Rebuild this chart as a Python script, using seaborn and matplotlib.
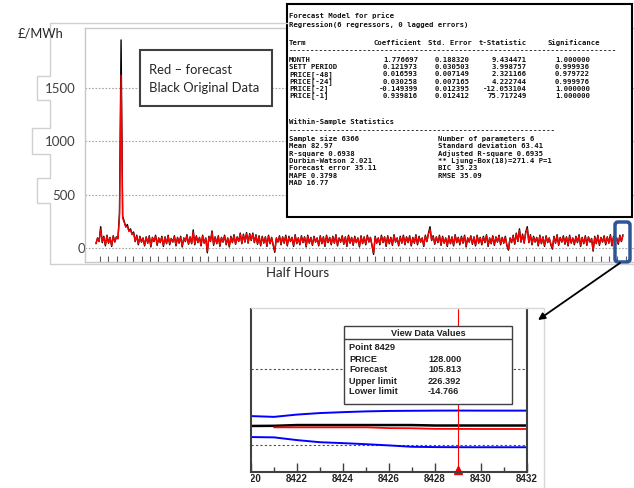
import numpy as np
import matplotlib
matplotlib.use("Agg")
import matplotlib.pyplot as plt
import seaborn as sns
from matplotlib.patches import Rectangle, FancyBboxPatch
from matplotlib.transforms import Bbox, TransformedBbox, ScaledTranslation, blended_transform_factory

W, H = 634, 488

# main series, one value every 25 half hours
price = [40, 95, 60, 200, 50, 110, 20, 120, 45, 100, 15, 115, 55, 105, 90, 330, 1950, 300, 250, 200,
         220, 160, 180, 130, 150, 60, 120, 30, 110, 55, 95, 20, 105, 45, 115, 10, 100, 60, 120, 25,
         95, 50, 110, 15, 105, 40, 120, 30, 90, 55, 115, 20, 100, 45, 110, 10, 95, 60, 125, 35,
         105, 40, 170, 30, 115, 50, 100, 20, 120, 45, 95, -45, 110, 60, 160, 25, 105, 40, 115, 15,
         100, 55, 120, 30, 95, 10, 110, 50, 125, 35, 105, 60, 140, 40, 130, 55, 145, 45, 135, 70,
         140, 50, 125, 35, 115, 20, 110, 45, 105, 15, 120, 40, 100, 25, -40, 95, 55, 115, 30, 105,
         45, 120, 20, 110, 60, 100, 15, 125, 40, 95, 30, 115, 50, 105, 10, 120, 45, 100, 25, 110,
         55, 95, 20, 115, 40, 105, 15, 120, 50, 100, 30, 110, 45, 125, 20, 95, 55, 115, 35, 105,
         15, 120, 45, 100, 25, 110, 50, 95, 10, 115, 40, 105, 30, 120, 55, 100, 20, -60, 110, 45,
         95, 30, 120, 50, 105, 15, 115, 40, 100, 25, 125, 55, 95, 20, 110, 45, 120, 30, 105, 50,
         115, 20, 100, 45, 125, 30, 110, 55, 95, 15, 120, 60, 140, 200, 70, 115, 35, 105, 50, 120,
         25, 110, 45, 95, 15, 115, 40, 105, 20, 125, 50, 100, 30, 110, 45, 120, 10, 95, 55, 115,
         35, 105, 20, 120, 45, 100, 30, 110, 50, 125, 15, 95, 40, 115, 25, 105, 55, 120, 30, 100,
         45, 110, 20, -20, 95, 50, 120, 35, 140, 60, 180, 55, 130, 45, 150, 200, 50, 125, 30, 110,
         55, 100, 20, 120, 40, 105, 15, 115, 50, 95, 30, -10, 110, 45, 125, 25, 100, 55, 115, 35,
         105, 20, 120, 45, 95, 30, 110, 50, 125, 15, 100, 40, 115, 25, 105, 55, 90, -30, 110, 40,
         120, 25, 100, 55, 115, 30, 105, 45, 125, 20, 110, 50, 95, 35, 120, 60, 125]
forecast = [45, 90, 65, 175, 60, 100, 30, 110, 50, 95, 25, 105, 60, 100, 85, 290, 1620, 280, 240, 195,
            205, 155, 170, 125, 140, 65, 110, 40, 100, 60, 90, 30, 100, 50, 105, 20, 95, 65, 110, 35,
            90, 55, 100, 25, 100, 45, 110, 40, 85, 60, 105, 30, 95, 50, 100, 20, 90, 65, 115, 40,
            100, 45, 150, 40, 105, 55, 95, 30, 110, 50, 90, -30, 100, 65, 145, 35, 100, 45, 105, 25,
            95, 60, 110, 40, 90, 20, 100, 55, 115, 40, 100, 65, 130, 45, 120, 60, 135, 50, 125, 75,
            130, 55, 115, 40, 105, 30, 100, 50, 100, 25, 110, 45, 95, 30, -25, 90, 60, 105, 40, 100,
            50, 110, 30, 100, 65, 95, 25, 115, 45, 90, 40, 105, 55, 100, 20, 110, 50, 95, 35, 100,
            60, 90, 30, 105, 45, 100, 25, 110, 55, 95, 40, 100, 50, 115, 30, 90, 60, 105, 40, 100,
            25, 110, 50, 95, 35, 100, 55, 90, 20, 105, 45, 100, 40, 110, 60, 95, 30, -45, 100, 50,
            90, 40, 110, 55, 100, 25, 105, 45, 95, 35, 115, 60, 90, 30, 100, 50, 110, 40, 100, 55,
            105, 30, 95, 50, 115, 40, 100, 60, 90, 25, 110, 65, 130, 175, 75, 105, 45, 100, 55, 110,
            35, 100, 50, 90, 25, 105, 45, 100, 30, 115, 55, 95, 40, 100, 50, 110, 20, 90, 60, 105,
            45, 100, 30, 110, 50, 95, 40, 100, 55, 115, 25, 90, 45, 105, 35, 100, 60, 110, 40, 95,
            50, 100, 30, -10, 90, 55, 110, 45, 130, 65, 165, 60, 120, 50, 140, 180, 55, 115, 40, 100,
            60, 95, 30, 110, 45, 100, 25, 105, 55, 90, 40, 0, 100, 50, 115, 35, 95, 60, 105, 45,
            100, 30, 110, 50, 90, 40, 100, 55, 115, 25, 95, 45, 105, 35, 100, 60, 85, -20, 100, 45,
            110, 35, 95, 60, 105, 40, 100, 50, 115, 30, 100, 55, 90, 45, 110, 65, 115]
half_hour = np.arange(len(price)) * 25

# zoomed view
inset_hh = [8420, 8421, 8422, 8423, 8424, 8425, 8426, 8427, 8428, 8429, 8430, 8431, 8432]
inset_price = [125, 126, 131, 131, 131, 131, 131, 131, 128, 128, 128, 128, 128]
inset_fc_hh = [8421, 8422, 8423, 8424, 8425, 8426, 8427, 8428, 8429, 8430, 8431, 8432]
inset_forecast = [116, 116, 116, 116, 116, 111, 110, 106, 105.8, 105, 105, 105]
inset_upper = [190, 185, 200, 210, 216, 221, 224, 225, 226, 226.4, 226, 226, 226]
inset_lower = [52, 50, 32, 18, 12, 5, -3, -12, -14, -14.8, -15, -15, -15]
cursor_point = 8429

terms = ['MONTH', 'SETT PERIOD', 'PRICE[-48]', 'PRICE[-24]', 'PRICE[-2]', 'PRICE[-1]']
coefs = ['1.776697', '0.121973', '0.016593', '0.030258', '-0.149399', '0.939816']
std_errs = ['0.188320', '0.030503', '0.007149', '0.007165', '0.012395', '0.012412']
t_stats = ['9.434471', '3.998757', '2.321166', '4.222744', '-12.053104', '75.717249']
signif = ['1.000000', '0.999936', '0.979722', '0.999976', '1.000000', '1.000000']
stats_left = ['Sample size 6366', 'Mean 82.97', 'R-square 0.6938', 'Durbin-Watson 2.021',
              'Forecast error 35.11', 'MAPE 0.3798', 'MAD 16.77']
stats_right = ['Number of parameters 6', 'Standard deviation 63.41', 'Adjusted R-square 0.6935',
               '** Ljung-Box(18)=271.4 P=1', 'BIC 35.23', 'RMSE 35.09']
view_labels = ['PRICE', 'Forecast', 'Upper limit', 'Lower limit']
view_values = ['128.000', '105.813', '226.392', '-14.766']

sns.set_style("white")
plt.rcParams['font.family'] = ['Lato', 'DejaVu Sans']

fig = plt.figure(figsize=(W / 100, H / 100), dpi=100)


def px_axes(x0, y0, x1, y1, **kw):
    return fig.add_axes([x0 / W, 1 - y1 / H, (x1 - x0) / W, (y1 - y0) / H], **kw)


# ---- main chart
ax = px_axes(85, 28, 634, 262, zorder=1)
sns.lineplot(x=half_hour, y=price, ax=ax, color='black', lw=1.0, estimator=None)
sns.lineplot(x=half_hour, y=forecast, ax=ax, color='#ff0000', lw=1.0, estimator=None)
ax.set_xlim(-175, 8576)
ax.set_ylim(-131, 2062)
ax.set_yticks([0, 500, 1000, 1500])
ax.set_yticklabels(['0', '500', '1000', '1500'], fontsize=9.5, color='#404040')
ax.tick_params(axis='y', length=0, pad=7)
ax.set_xticks(np.arange(64, 8500, 133))
ax.set_xticklabels([])
ax.tick_params(axis='x', direction='in', length=4.3, width=0.8, color='#606060', bottom=True)
ax.grid(axis='y', ls=(0, (1.5, 1.5)), color='#a6a6a6', lw=0.8)
ax.grid(axis='x', visible=False)
ax.set_axisbelow(True)
for s in ['left', 'top', 'bottom']:
    ax.spines[s].set_color('#c8c8c8')
    ax.spines[s].set_linewidth(1)
ax.spines['right'].set_visible(False)
ax.set_xlabel('')
ax.set_ylabel('')
for lbl in ax.get_yticklabels():
    if lbl.get_text() == '0':
        lbl.set_transform(lbl.get_transform() + ScaledTranslation(0.10, 0, fig.dpi_scale_trans))

# ---- zoomed view
ax2 = px_axes(251, 309, 527, 472, zorder=2)
sns.lineplot(x=inset_hh, y=inset_upper, ax=ax2, color='#0000ff', lw=1.4, estimator=None)
sns.lineplot(x=inset_hh, y=inset_lower, ax=ax2, color='#0000ff', lw=1.4, estimator=None)
sns.lineplot(x=inset_hh, y=inset_price, ax=ax2, color='black', lw=1.8, estimator=None)
sns.lineplot(x=inset_fc_hh, y=inset_forecast, ax=ax2, color='#ff0000', lw=1.3, estimator=None)
ax2.axvline(cursor_point, color='#ff0000', lw=0.8)
ax2.plot([cursor_point], [0.015], marker='^', color='#ee0000', ms=6, clip_on=False,
         transform=blended_transform_factory(ax2.transData, ax2.transAxes))
ax2.set_xlim(8420, 8432)
ax2.set_ylim(-178, 895)
ax2.set_yticks([0, 500])
ax2.tick_params(axis='y', left=False, labelleft=False)
ax2.grid(axis='y', ls=(0, (2, 2)), color='#505050', lw=0.8)
ax2.grid(axis='x', visible=False)
ax2.set_axisbelow(True)
ax2.set_xticks(range(8420, 8433, 2))
ax2.set_xticks(range(8421, 8433, 2), minor=True)
ax2.set_xticklabels([str(v) for v in range(8420, 8433, 2)], fontsize=7, fontweight='bold',
                    family=['Liberation Sans', 'DejaVu Sans'], color='#222222')
ax2.tick_params(axis='x', which='major', direction='in', length=6.5, width=1, color='#404040', pad=1.5, bottom=True)
ax2.tick_params(axis='x', which='minor', direction='in', length=3.6, width=1, color='#404040', bottom=True)
for s in ['left', 'right', 'bottom']:
    ax2.spines[s].set_color('#404040')
    ax2.spines[s].set_linewidth(1.5)
ax2.spines['top'].set_visible(False)
ax2.set_xlabel('')
ax2.set_ylabel('')
clip = TransformedBbox(Bbox.from_extents(251 / W, 0, 1, 1), fig.transFigure)
for lbl in ax2.get_xticklabels():
    lbl.set_clip_box(clip)
    lbl.set_clip_on(True)

# ---- overlay in pixel coordinates
ov = fig.add_axes([0, 0, 1, 1], zorder=10)
ov.set_xlim(0, W)
ov.set_ylim(H, 0)
ov.axis('off')
ov.patch.set_alpha(0)

grey = '#d0d0d0'
ov.plot([287, 50, 50, 37, 37, 50, 50, 32, 32, 50, 50, 37, 37, 50, 50, 634],
        [23, 23, 76, 76, 100, 100, 128, 128, 154, 154, 178, 178, 203, 203, 264, 264],
        color=grey, lw=1)
ov.plot([251, 544, 544], [308, 308, 488], color='#d8d8d8', lw=1)

ov.text(18, 33, '£/MWh', fontsize=9.3, color='#262626', va='center', ha='left')
ov.text(298, 273, 'Half Hours', fontsize=9.5, color='#262626', va='center', ha='center')

ov.add_patch(Rectangle((140, 50), 132, 56, fc='white', ec='#404040', lw=1.5))
ov.text(149, 70, 'Red – forecast', fontsize=9.4, color='#262626', va='center', ha='left')
ov.text(149, 88, 'Black Original Data', fontsize=9.4, color='#262626', va='center', ha='left')

# model report box
ov.add_patch(Rectangle((287, 4), 345, 213, fc='white', ec='black', lw=1.5))
mono = dict(family=['DejaVu Sans Mono'], fontsize=5.2, fontweight='bold', color='#111111', va='center')
ov.text(289, 16, 'Forecast Model for price', ha='left', **mono)
ov.text(289, 25, 'Regression(6 regressors, 0 lagged errors)', ha='left', **mono)
ov.text(289, 43, 'Term', ha='left', **mono)
for x, name in zip([422, 472, 527, 600], ['Coefficient', 'Std. Error', 't-Statistic', 'Significance']):
    ov.text(x, 43, name, ha='right', **mono)
ov.text(289, 51, '-' * 75, ha='left', **mono)
for k, term in enumerate(terms):
    y = 60 + 7.2 * k
    ov.text(289, y, term, ha='left', **mono)
    ov.text(418, y, coefs[k], ha='right', **mono)
    ov.text(470, y, std_errs[k], ha='right', **mono)
    ov.text(527, y, t_stats[k], ha='right', **mono)
    ov.text(590, y, signif[k], ha='right', **mono)
ov.text(289, 122, 'Within-Sample Statistics', ha='left', **mono)
ov.text(289, 131, '-' * 61, ha='left', **mono)
for k, s in enumerate(stats_left):
    ov.text(289, 139 + 7.3 * k, s, ha='left', **mono)
for k, s in enumerate(stats_right):
    ov.text(438, 139 + 7.3 * k, s, ha='left', **mono)

# highlight and arrow
ov.add_patch(FancyBboxPatch((615, 222), 15, 40, boxstyle='round,pad=0,rounding_size=3',
                            fc='none', ec='#2f5597', lw=2.5))
ov.annotate('', xy=(538, 320), xytext=(620, 263),
            arrowprops=dict(arrowstyle='-|>', color='black', lw=1.3, mutation_scale=10,
                            shrinkA=0, shrinkB=0))

# data values box
ov.add_patch(Rectangle((344, 326), 168, 78, fc='white', ec='#404040', lw=1))
ov.plot([344, 512], [339, 339], color='#404040', lw=1)
bold = dict(family=['Liberation Sans', 'DejaVu Sans'], fontsize=6.6, fontweight='bold', color='#222222', va='center')
ov.text(428, 333, 'View Data Values', ha='center', **bold)
ov.text(349, 348, f'Point {cursor_point}', ha='left', **bold)
for k, (lab, val) in enumerate(zip(view_labels, view_values)):
    ov.text(349, 359 + 11 * k, lab, ha='left', **bold)
    ov.text(428, 359 + 11 * k, val, ha='left', **bold)

fig.savefig('out.png', dpi=100)
